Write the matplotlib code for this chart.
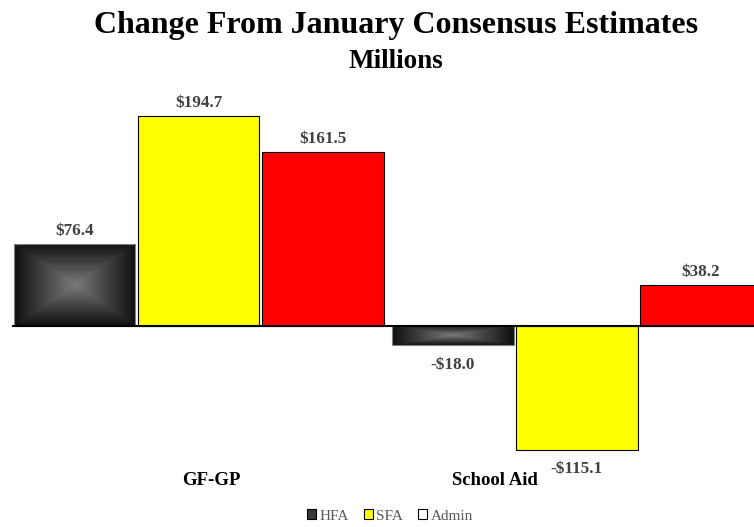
import numpy as np
import matplotlib
matplotlib.use("Agg")
import matplotlib.pyplot as plt
from matplotlib.patches import Patch

categories = ["GF-GP", "School Aid"]
series = ["HFA", "SFA", "Admin"]
hfa = [76.4, -18.0]
sfa = [194.7, -115.1]
admin = [161.5, 38.2]

colors = {"SFA": "#ffff00", "Admin": "#ff0000"}
label_color = "#404040"

plt.rcParams["font.family"] = ["Liberation Serif", "DejaVu Serif"]

fig = plt.figure(figsize=(7.54, 5.27), dpi=100)
ax = fig.add_axes([12 / 754, 1 - 495 / 527, 1 - 12 / 754, (495 - 95) / 527])

x = np.arange(len(categories))
w = 0.322
pitch = 0.328


def box_gradient(ax, x0, x1, y0, y1):
    # dark edges fading to a grey centre, like a rectangular path gradient
    n = 200
    u = np.linspace(-1, 1, n)
    uu, vv = np.meshgrid(u, u)
    d = np.maximum(np.abs(uu), np.abs(vv))
    img = 0.48 - 0.42 * d
    im = ax.imshow(img, extent=(x0, x1, y0, y1), cmap="gray", vmin=0, vmax=1,
                   aspect="auto", interpolation="bilinear", zorder=2)
    return im


for i, (vals, name) in enumerate(zip([hfa, sfa, admin], series)):
    xs = x + (i - 1) * pitch
    for xi, v in zip(xs, vals):
        if name == "HFA":
            bar = ax.bar(xi, v, width=w, facecolor="none", edgecolor="#808080",
                         linewidth=0.8, zorder=3)[0]
            im = box_gradient(ax, xi - w / 2, xi + w / 2, min(0, v), max(0, v))
            im.set_clip_path(bar)
        else:
            ax.bar(xi, v, width=w, color=colors[name], edgecolor="black",
                   linewidth=0.8, zorder=3)
        off = 3.5 if v >= 0 else -8
        ax.annotate(f"${v:.1f}" if v >= 0 else f"-${-v:.1f}", (xi, v),
                    xytext=(0, off), textcoords="offset points",
                    ha="center", va="bottom" if v >= 0 else "top",
                    fontsize=12.3, fontweight="bold", color=label_color)

ax.axhline(0, color="black", lw=1.5, zorder=4)

ax.set_xlim(-0.493, 1.468)
ax.set_ylim(-156.8, 214.3)
for s in ax.spines.values():
    s.set_visible(False)
ax.set_xticks([])
ax.set_yticks([])

# category names sit low under each group
for cx, name in zip([0.033, 0.783], categories):
    ax.text(cx, -142.9, name, ha="center", va="center", fontsize=13.5,
            fontweight="bold", color="black")

fig.text(0.525, 1 - 25 / 527, "Change From January Consensus Estimates",
         ha="center", va="center", fontsize=23, fontweight="bold")
fig.text(0.525, 1 - 61 / 527, "Millions", ha="center", va="center",
         fontsize=19.5, fontweight="bold")

handles = [Patch(facecolor="#3a3a3a", edgecolor="black", linewidth=0.8),
           Patch(facecolor=colors["SFA"], edgecolor="black", linewidth=0.8),
           Patch(facecolor="white", edgecolor="black", linewidth=0.8)]
leg = fig.legend(handles, series, loc="center", bbox_to_anchor=(0.517, 1 - 516 / 527),
                 ncol=3, frameon=False, fontsize=11, handlelength=0.6,
                 handleheight=0.6, handletextpad=0.2, columnspacing=1.0)
for t in leg.get_texts():
    t.set_color("#595959")

fig.savefig("out.png", dpi=100)
